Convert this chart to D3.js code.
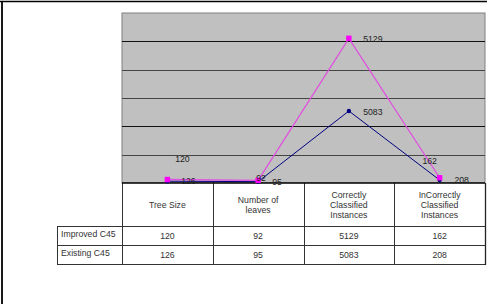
<!DOCTYPE html>
<html><head><meta charset="utf-8">
<script src="https://cdn.jsdelivr.net/npm/d3@7"></script>
<style>
html,body{margin:0;padding:0;background:#fff;}
svg{display:block;font-family:"Liberation Sans",Arial,sans-serif;}
</style></head>
<body><svg id="c" width="489" height="304"></svg>
<script>
// ---- data ----
const categories = ["Tree Size", "Number of leaves", "Correctly Classified Instances", "InCorrectly Classified Instances"];
const headerLines = [["Tree Size"], ["Number of", "leaves"], ["Correctly", "Classified", "Instances"], ["InCorrectly", "Classified", "Instances"]];
const seriesNames = ["Improved C45", "Existing C45"];
const improved = [120, 92, 5129, 162];
const existing = [126, 95, 5083, 208];
const yTicks = [0, 2000, 4000, 6000, 8000, 10000, 12000];
// label offsets (dx, dy) for the data labels
const improvedLabelOffsets = [[15, -21], [3, -2], [24, 1], [-10, -17]];
const existingLabelOffsets = [[21, 0], [19, 0], [24, 1], [22, 0]];

const svg = d3.select("#c");
const H = 304;
const plot = {l: 122, r: 485, t: 13, b: 183};
const rowLabelX = 57;
const headerBottom = 226, row1Bottom = 245, row2Bottom = 264;

// outer frame
svg.append("line").attr("x1", 0).attr("x2", 487).attr("y1", 1.5).attr("y2", 1.5).attr("stroke", "#000").attr("stroke-width", 1.6);
svg.append("line").attr("x1", 2).attr("x2", 2).attr("y1", 1).attr("y2", H).attr("stroke", "#000").attr("stroke-width", 1.8);

const x = d3.scaleBand().domain(categories).range([plot.l, plot.r]);
const y = d3.scaleLinear().domain([0, 12000]).range([plot.b, plot.t]);

// plot area
svg.append("rect").attr("x", plot.l).attr("y", plot.t).attr("width", plot.r - plot.l).attr("height", plot.b - plot.t)
  .attr("fill", "#c0c0c0").attr("stroke", "#808080").attr("stroke-width", 1);

// gridlines
svg.append("g").selectAll("line").data(yTicks.filter(t => t > 0 && t < 12000)).join("line")
  .attr("x1", plot.l).attr("x2", plot.r)
  .attr("y1", d => Math.round(y(d)) + 0.5).attr("y2", d => Math.round(y(d)) + 0.5)
  .attr("stroke", (d, i) => ["#444", "#111", "#444", "#444", "#111"][i]).attr("stroke-width", 1);

// stacked values
const existingStack = existing.map(v => v);
const improvedStack = improved.map((v, i) => v + existing[i]);
const cx = c => x(c) + x.bandwidth() / 2;

const line = d3.line().x(d => cx(d.c)).y(d => y(d.v));
const exData = categories.map((c, i) => ({c, v: existingStack[i], label: existing[i], off: existingLabelOffsets[i]}));
const imData = categories.map((c, i) => ({c, v: improvedStack[i], label: improved[i], off: improvedLabelOffsets[i]}));

// table
const tbl = svg.append("g");
tbl.append("rect").attr("x", plot.l).attr("y", plot.b).attr("width", plot.r - plot.l).attr("height", headerBottom - plot.b).attr("fill", "#fff");
tbl.append("rect").attr("x", rowLabelX).attr("y", headerBottom).attr("width", plot.r - rowLabelX).attr("height", row2Bottom - headerBottom).attr("fill", "#fff");
const tStroke = "#333";
[[plot.l, headerBottom], [rowLabelX, headerBottom], [rowLabelX, row1Bottom], [rowLabelX, row2Bottom]].forEach(([x0, yy]) => {
  tbl.append("line").attr("x1", x0).attr("x2", plot.r).attr("y1", yy + 0.5).attr("y2", yy + 0.5).attr("stroke", tStroke).attr("stroke-width", 1);
});
categories.forEach(c => {
  tbl.append("line").attr("x1", Math.round(x(c)) + 0.5).attr("x2", Math.round(x(c)) + 0.5).attr("y1", plot.b).attr("y2", row2Bottom).attr("stroke", tStroke);
});
tbl.append("line").attr("x1", plot.r + 0.5).attr("x2", plot.r + 0.5).attr("y1", plot.b).attr("y2", row2Bottom + 1).attr("stroke", "#222").attr("stroke-width", 1.3);
tbl.append("line").attr("x1", rowLabelX + 0.5).attr("x2", rowLabelX + 0.5).attr("y1", headerBottom).attr("y2", row2Bottom).attr("stroke", tStroke);
// baseline
svg.append("line").attr("x1", plot.l).attr("x2", plot.r).attr("y1", plot.b).attr("y2", plot.b).attr("stroke", "#000").attr("stroke-width", 1.5);

const fs = 8.7, tColor = "#333";
categories.forEach((c, i) => {
  const lines = headerLines[i];
  const cy = (plot.b + headerBottom) / 2;
  lines.forEach((ln, j) => {
    tbl.append("text").attr("x", cx(c)).attr("y", cy + (j - (lines.length - 1) / 2) * 10)
      .attr("dy", "0.35em").attr("text-anchor", "middle").attr("font-size", fs).attr("fill", tColor).text(ln);
  });
});
const rows = [improved, existing];
const rowTops = [headerBottom, row1Bottom];
rows.forEach((vals, r) => {
  const cyy = rowTops[r] + 9.7;
  tbl.append("text").attr("x", rowLabelX + 4).attr("y", cyy - 1.5).attr("dy", "0.35em").attr("font-size", fs).attr("fill", tColor).text(seriesNames[r]);
  vals.forEach((v, i) => {
    tbl.append("text").attr("x", cx(categories[i])).attr("y", cyy).attr("dy", "0.35em").attr("text-anchor", "middle")
      .attr("font-size", fs).attr("fill", tColor).text(v);
  });
});

// lines
svg.append("path").datum(exData).attr("d", line).attr("fill", "none").attr("stroke", "#000080").attr("stroke-width", 1);
svg.append("path").datum(imData).attr("d", line).attr("fill", "none").attr("stroke", "#e050e0").attr("stroke-width", 1.3);

// markers
svg.append("g").selectAll("circle").data(exData).join("circle")
  .attr("cx", d => cx(d.c)).attr("cy", d => y(d.v)).attr("r", 2.2).attr("fill", "#000080");
svg.append("g").selectAll("rect").data(imData).join("rect")
  .attr("x", d => cx(d.c) - 2.7).attr("y", d => y(d.v) - 2.7).attr("width", 5.4).attr("height", 5.4).attr("fill", "#ff00ff");

// data labels
const lbl = svg.append("g");
[...imData, ...exData].forEach(d => {
  lbl.append("text").attr("x", cx(d.c) + d.off[0]).attr("y", y(d.v) + d.off[1]).attr("dy", "0.35em")
    .attr("text-anchor", "middle").attr("font-size", fs).attr("fill", "#222").text(d.label);
});
</script></body></html>
